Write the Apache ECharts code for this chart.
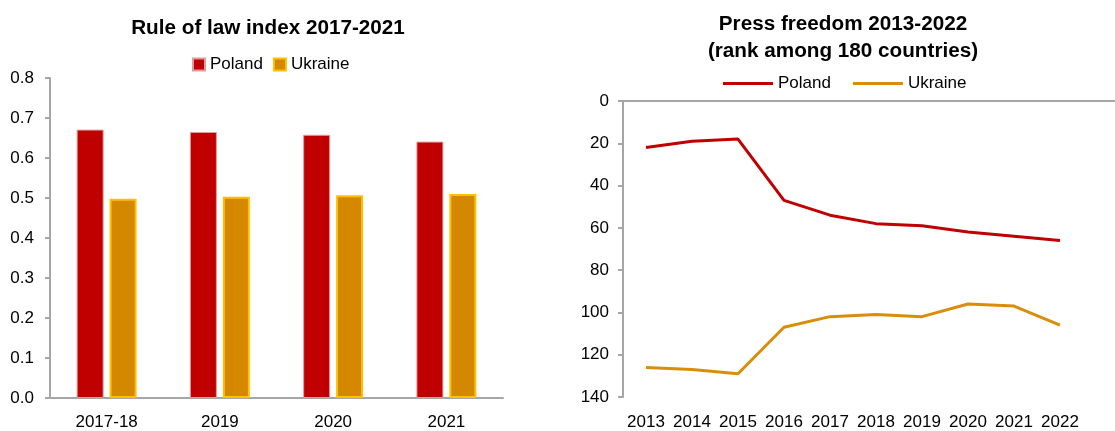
<!DOCTYPE html>
<html><head><meta charset="utf-8">
<script src="https://cdn.jsdelivr.net/npm/echarts@6/dist/echarts.min.js"></script>
<style>html,body{margin:0;padding:0;background:#fff}#c{width:1115px;height:431px}</style>
</head><body><div id="c"></div>
<script>
var lawCategories = ['2017-18', '2019', '2020', '2021'];
var lawPoland = [0.671, 0.665, 0.658, 0.641];
var lawUkraine = [0.498, 0.503, 0.507, 0.510];
var lawTicks = [0, 0.1, 0.2, 0.3, 0.4, 0.5, 0.6, 0.7, 0.8];

var pressYears = ['2013','2014','2015','2016','2017','2018','2019','2020','2021','2022'];
var pressPoland = [22, 19, 18, 47, 54, 58, 59, 62, 64, 66];
var pressUkraine = [126, 127, 129, 107, 102, 101, 102, 96, 97, 106];
var pressTicks = [0, 20, 40, 60, 80, 100, 120, 140];

var RED = '#C00000', ORANGE = '#D48800', YELLOW = '#FFC000', LINEOR = '#D98E0B';
var FONT = 'Liberation Sans, Arial, sans-serif';
var axisGray = '#A6A6A6';
var chart = echarts.init(document.getElementById('c'), null, {renderer: 'canvas'});
var PRESS = ' (press)';
chart.setOption({
  animation: false,
  textStyle: {fontFamily: FONT},
  title: [
    {text: 'Rule of law index 2017-2021', left: 263, top: 13, textAlign: 'center',
     textStyle: {fontSize: 20.7, fontWeight: 'bold', color: '#000', fontFamily: FONT}},
    {text: 'Press freedom 2013-2022\n(rank among 180 countries)', left: 838, top: 6, textAlign: 'center',
     textStyle: {fontSize: 20.7, fontWeight: 'bold', color: '#000', fontFamily: FONT, lineHeight: 27}}
  ],
  legend: [
    {data: [{name: 'Poland', icon: 'rect'}, {name: 'Ukraine', icon: 'rect'}], left: 187, top: 51,
     itemWidth: 12, itemHeight: 12, itemGap: 10,
     textStyle: {fontSize: 17, color: '#000', fontFamily: FONT}},
    {data: [{name: 'Poland' + PRESS, icon: 'rect'}, {name: 'Ukraine' + PRESS, icon: 'rect'}], left: 718, top: 70,
     itemWidth: 50, itemHeight: 3, itemGap: 22,
     formatter: function (n) { return n.replace(PRESS, ''); },
     textStyle: {fontSize: 17, color: '#000', fontFamily: FONT, padding: [8, 0, 8, 0]}}
  ],
  grid: [
    {left: 50, right: 612, top: 78, bottom: 31, containLabel: false},
    {left: 623, width: 460, top: 101, bottom: 31, containLabel: false},
    {left: 623, right: 0, top: 101, bottom: 31, containLabel: false}
  ],
  xAxis: [
    {type: 'category', gridIndex: 0, data: lawCategories,
     axisLine: {lineStyle: {color: axisGray, width: 2}}, axisTick: {show: false},
     axisLabel: {fontSize: 17, color: '#000', margin: 16, fontFamily: FONT}},
    {type: 'category', gridIndex: 1, data: pressYears, position: 'bottom',
     axisLine: {show: false, onZero: false}, axisTick: {show: false},
     axisLabel: {fontSize: 17, color: '#000', margin: 17, fontFamily: FONT, interval: 0}},
    {type: 'value', gridIndex: 2, position: 'top', min: 0, max: 1,
     axisLine: {show: true, onZero: false, lineStyle: {color: axisGray, width: 2}},
     axisTick: {show: false}, axisLabel: {show: false}, splitLine: {show: false}}
  ],
  yAxis: [
    {type: 'value', gridIndex: 0, min: lawTicks[0], max: lawTicks[lawTicks.length - 1], interval: 0.1,
     axisLine: {show: true, lineStyle: {color: axisGray, width: 2}},
     axisTick: {show: true, length: 5, lineStyle: {color: axisGray, width: 2}},
     splitLine: {show: false},
     axisLabel: {fontSize: 17, color: '#000', margin: 16, fontFamily: FONT,
       formatter: function (v) { return v.toFixed(1); }}},
    {type: 'value', gridIndex: 1, inverse: true, min: pressTicks[0], max: pressTicks[pressTicks.length - 1], interval: 20,
     axisLine: {show: true, lineStyle: {color: axisGray, width: 2}},
     axisTick: {show: true, length: 5, lineStyle: {color: axisGray, width: 2}},
     splitLine: {show: false},
     axisLabel: {fontSize: 17, color: '#000', margin: 14, fontFamily: FONT}},
    {type: 'value', gridIndex: 2, show: false, min: 0, max: 1}
  ],
  series: [
    {name: 'Poland', type: 'bar', xAxisIndex: 0, yAxisIndex: 0, data: lawPoland,
     barWidth: 27, barGap: '22%',
     itemStyle: {color: RED, borderColor: '#E39A9A', borderWidth: 1}},
    {name: 'Ukraine', type: 'bar', xAxisIndex: 0, yAxisIndex: 0, data: lawUkraine,
     barWidth: 27, barGap: '22%',
     itemStyle: {color: ORANGE, borderColor: YELLOW, borderWidth: 2}},
    {name: 'Poland' + PRESS, type: 'line', xAxisIndex: 1, yAxisIndex: 1, data: pressPoland,
     symbol: 'none', lineStyle: {color: RED, width: 3}, itemStyle: {color: RED}},
    {name: 'Ukraine' + PRESS, type: 'line', xAxisIndex: 1, yAxisIndex: 1, data: pressUkraine,
     symbol: 'none', lineStyle: {color: LINEOR, width: 3}, itemStyle: {color: LINEOR}}
  ]
});
</script></body></html>
